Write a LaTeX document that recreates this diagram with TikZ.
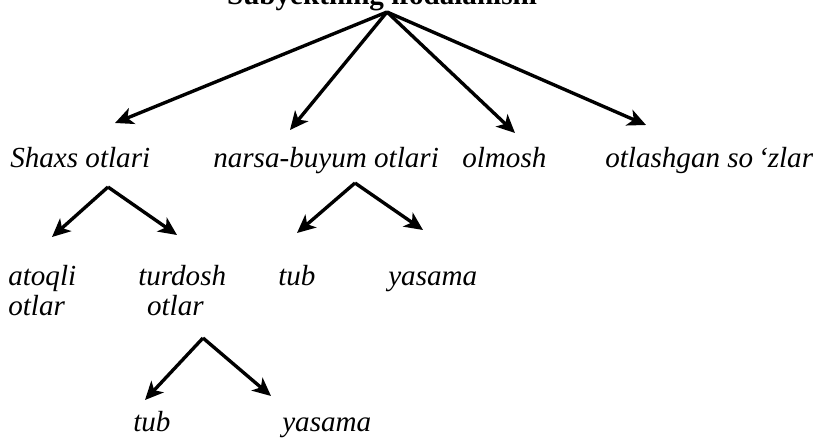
\documentclass[tikz,border=0pt]{standalone}
\usepackage{fontspec}
\setmainfont{Liberation Serif}
\usetikzlibrary{arrows.meta}
\tikzset{
	term/.style={inner sep=0pt, anchor=base west, font=\fontsize{20.7}{21.3}\selectfont\itshape},
	branch/.style={line width=2.4pt, -{Stealth[length=13pt, width=12pt, inset=3.5pt]}},
}

\begin{document}
\begin{tikzpicture}[x=0.025cm, y=-0.025cm]
	\useasboundingbox (0,0) rectangle (813,439);

	% Title (cut at the top edge)
	\node[inner sep=0pt, anchor=base, font=\fontsize{20.7}{21.3}\selectfont\bfseries] (title) at (382,5) {Subyektning ifodalanishi};
	\coordinate (root) at (387,12);

	% First row
	\node[term] (shaxs) at (10,167) {Shaxs otlari};
	\node[term] (narsa) at (213,167) {narsa-buyum otlari};
	\node[term] (olmosh) at (462,167) {olmosh};
	\node[term] (otlash) at (605,167) {otlashgan so\,‘zlar};

	\coordinate (tipshaxs) at (115,123);
	\coordinate (tipnarsa) at (290,130);
	\coordinate (tipolmosh) at (515,133);
	\coordinate (tipotlash) at (646,125);
	\draw[branch] (root) -- (tipshaxs);
	\draw[branch] (root) -- (tipnarsa);
	\draw[branch] (root) -- (tipolmosh);
	\draw[branch] (root) -- (tipotlash);

	% Second row (base of a two-line node is its last line)
	\node[term, align=left] (atoqli) at (8,315) {atoqli\\otlar};
	\node[term, align=left] (turdosh) at (138,315) {turdosh\\\hspace*{0.22cm}otlar};
	\node[term] (tubA) at (278,285) {tub};
	\node[term] (yasamaA) at (388,285) {yasama};

	\coordinate (forkshaxs) at (108,187);
	\coordinate (tipatoqli) at (52,237);
	\coordinate (tipturdosh) at (177,235);
	\draw[branch] (forkshaxs) -- (tipatoqli);
	\draw[branch] (forkshaxs) -- (tipturdosh);

	\coordinate (forknarsa) at (355,183);
	\coordinate (tiptubA) at (297,233);
	\coordinate (tipyasamaA) at (423,230);
	\draw[branch] (forknarsa) -- (tiptubA);
	\draw[branch] (forknarsa) -- (tipyasamaA);

	% Third row
	\node[term] (tubB) at (133,431) {tub};
	\node[term] (yasamaB) at (282,431) {yasama};

	\coordinate (forkturdosh) at (203,338);
	\coordinate (tiptubB) at (145,400);
	\coordinate (tipyasamaB) at (271,396);
	\draw[branch] (forkturdosh) -- (tiptubB);
	\draw[branch] (forkturdosh) -- (tipyasamaB);
\end{tikzpicture}
\end{document}
